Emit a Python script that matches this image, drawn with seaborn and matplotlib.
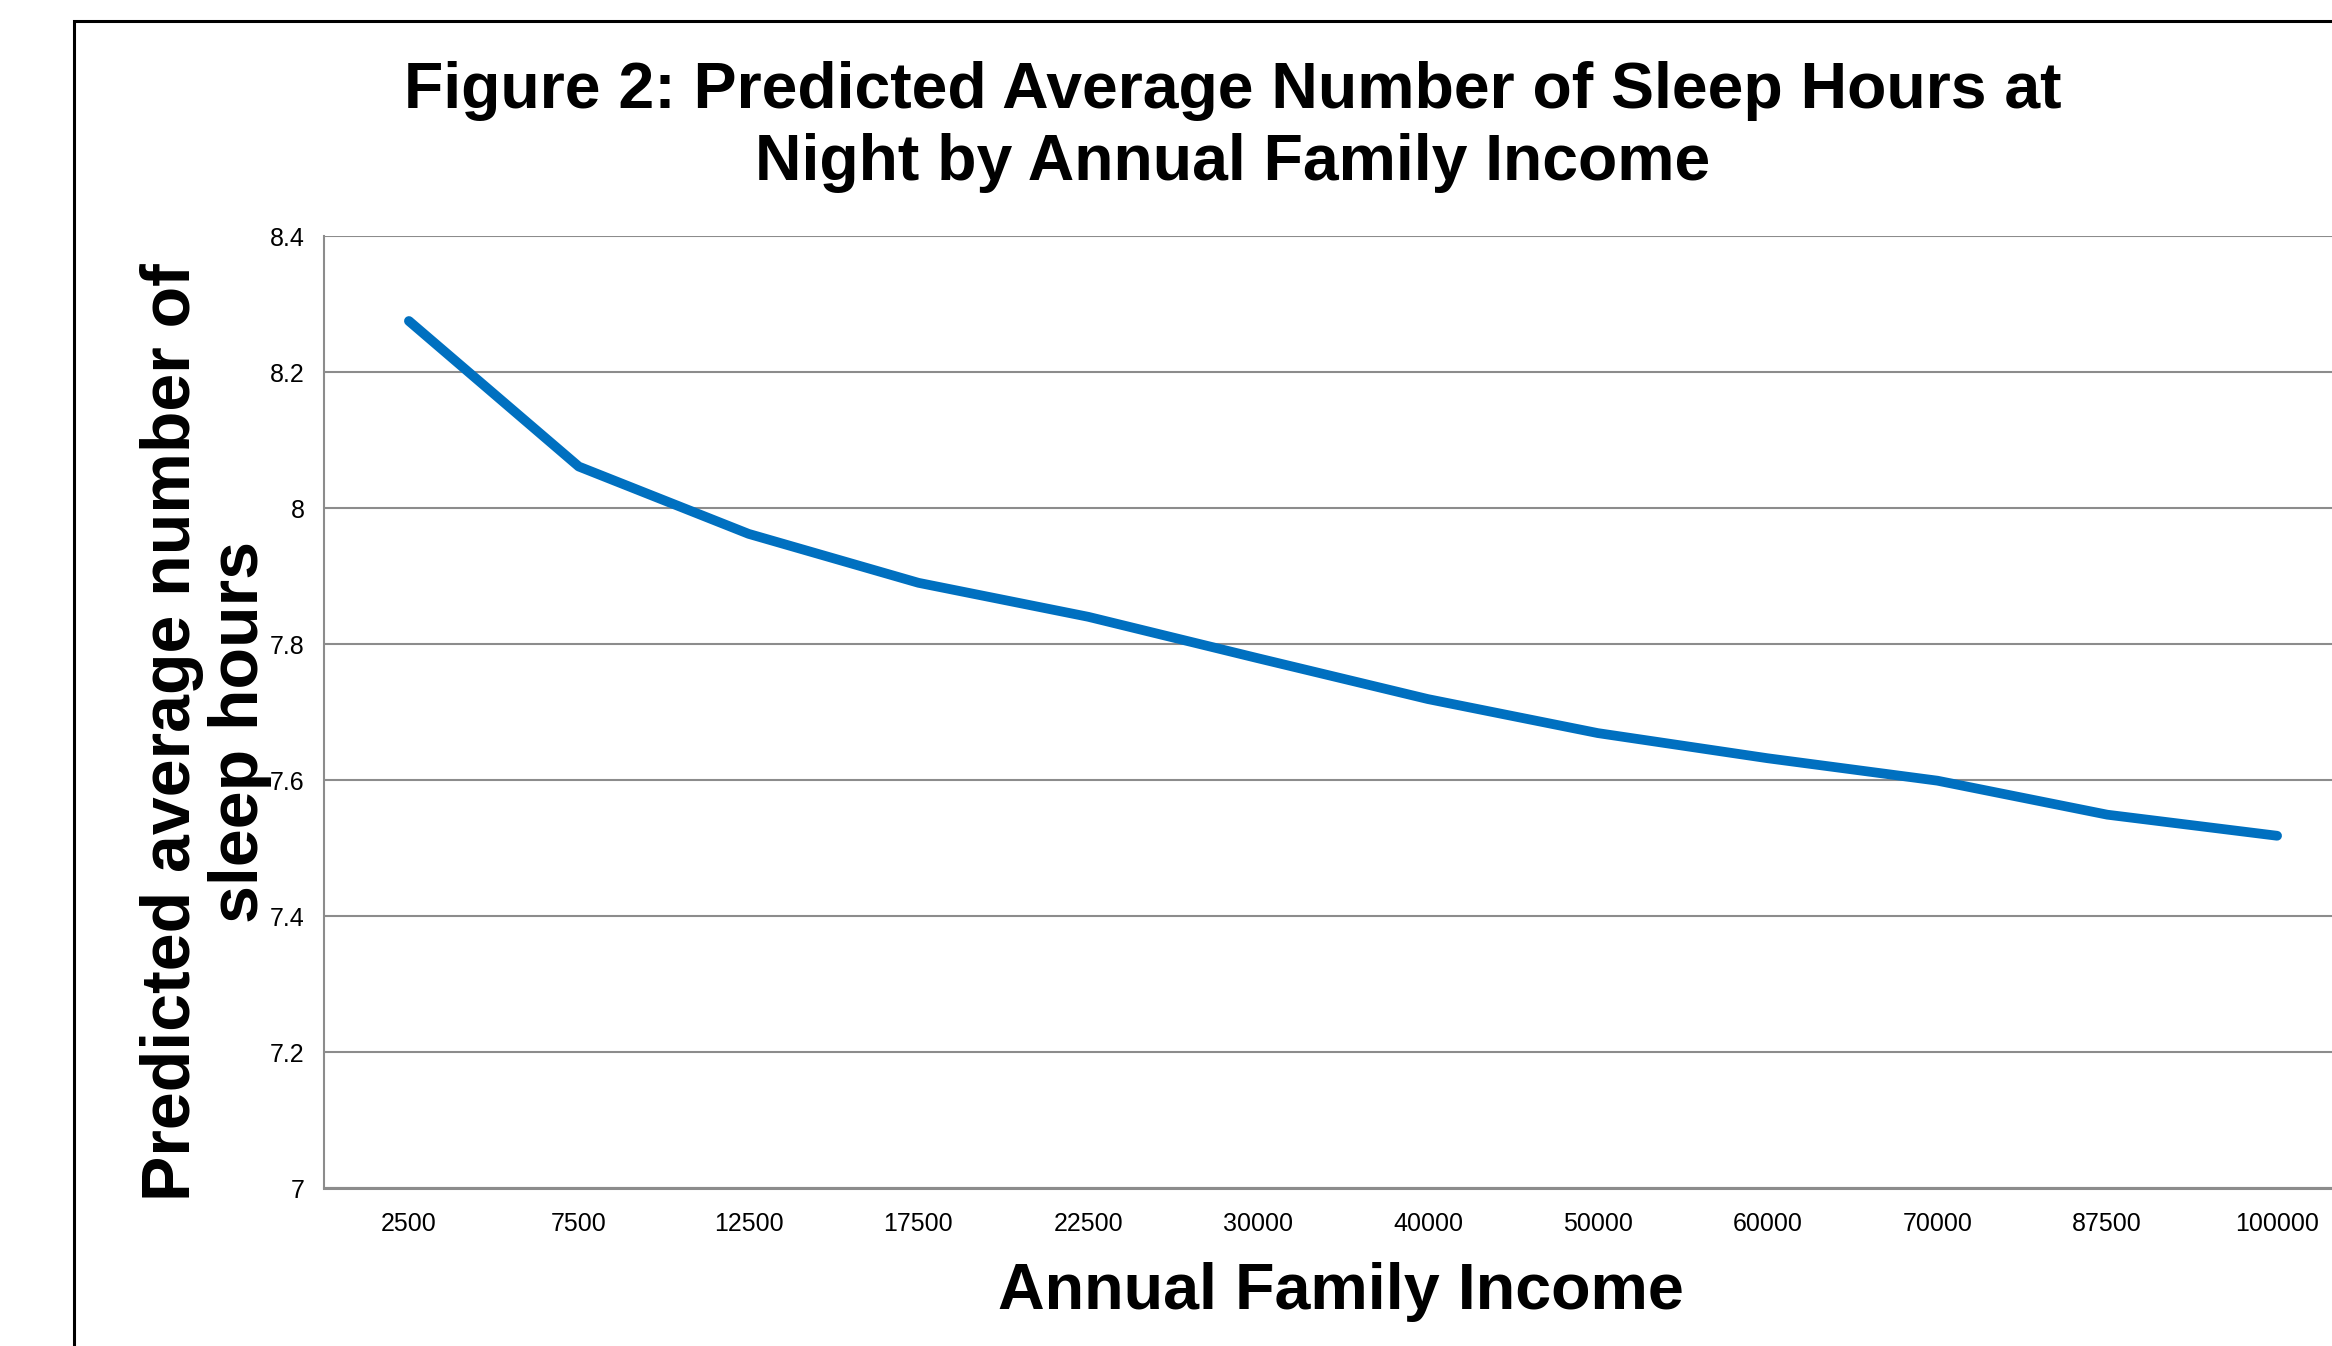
import matplotlib
matplotlib.use("Agg")
import matplotlib.pyplot as plt
import matplotlib.patches as patches
from matplotlib.ticker import FixedLocator, NullFormatter
import seaborn as sns
import pandas as pd

sns.set_style("white")
fonts = ["Liberation Sans", "DejaVu Sans"]
plt.rcParams["font.family"] = fonts
plt.rcParams["text.color"] = "black"
plt.rcParams["xtick.labelcolor"] = "black"
plt.rcParams["ytick.labelcolor"] = "black"

# data
income_labels = ["2500", "7500", "12500", "17500", "22500", "30000",
                 "40000", "50000", "60000", "70000", "87500", "100000"]
sleep_hours = [8.275, 8.061, 7.962, 7.890, 7.840, 7.779,
               7.719, 7.669, 7.632, 7.599, 7.549, 7.518]
y_ticks = [7, 7.2, 7.4, 7.6, 7.8, 8, 8.2, 8.4]
y_tick_labels = ["7", "7.2", "7.4", "7.6", "7.8", "8", "8.2", "8.4"]

df = pd.DataFrame({"income": income_labels, "sleep": sleep_hours})

W, H = 2332, 1346
fig = plt.figure(figsize=(W / 100, H / 100), dpi=100)
ax = fig.add_axes([324 / W, 158 / H, (2362 - 324) / W, (1188 - 236) / H])

sns.lineplot(data=df, x="income", y="sleep", sort=False, ax=ax,
             color="#0070C0", linewidth=7, solid_capstyle="round",
             solid_joinstyle="round")

ax.set_xlim(-0.5, len(income_labels) - 0.5)
ax.set_ylim(7, 8.4)
ax.set_yticks(y_ticks)
ax.set_yticklabels(y_tick_labels)
ax.grid(axis="y", color="#8c8c8c", linewidth=1.5)
ax.set_axisbelow(True)

# category boundary ticks on x
ax.set_xticks(range(len(income_labels)))
ax.set_xticklabels(income_labels)
ax.xaxis.set_minor_locator(FixedLocator([i - 0.5 for i in range(len(income_labels) + 1)]))
ax.xaxis.set_minor_formatter(NullFormatter())
ax.tick_params(axis="x", which="major", length=0, pad=17, labelsize=18)
ax.tick_params(axis="x", which="minor", length=9, width=1.3, color="#8c8c8c", direction="out")
ax.tick_params(axis="y", length=6, width=1.3, color="#8c8c8c", pad=8, labelsize=18)

for s in ["top", "right"]:
    ax.spines[s].set_visible(False)
ax.spines["left"].set_color("#8c8c8c")
ax.spines["left"].set_linewidth(1.5)
ax.spines["bottom"].set_color("#8c8c8c")
ax.spines["bottom"].set_linewidth(2.2)

ax.set_xlabel("")
ax.set_ylabel("")

fig.text(1233 / W, 1 - 127 / H,
         "Figure 2: Predicted Average Number of Sleep Hours at\nNight by Annual Family Income",
         ha="center", va="center", fontsize=46.4, fontweight="bold",
         linespacing=1.25, color="black")
fig.text(1341 / W, 1 - 1292 / H, "Annual Family Income", ha="center", va="center",
         fontsize=46.5, fontweight="bold", color="black")
fig.text(206 / W, 1 - 732 / H, "Predicted average number of\nsleep hours",
         ha="center", va="center", rotation=90, fontsize=49, fontweight="bold",
         linespacing=1.08, color="black")

# outer chart border, cut off by the image edge on the right and bottom
fig.patches.append(patches.Rectangle((74 / W, -0.1), 1.5, 1.1 - 21 / H,
                                     transform=fig.transFigure, fill=False,
                                     edgecolor="black", linewidth=2.2))

fig.savefig("out.png", dpi=100)
